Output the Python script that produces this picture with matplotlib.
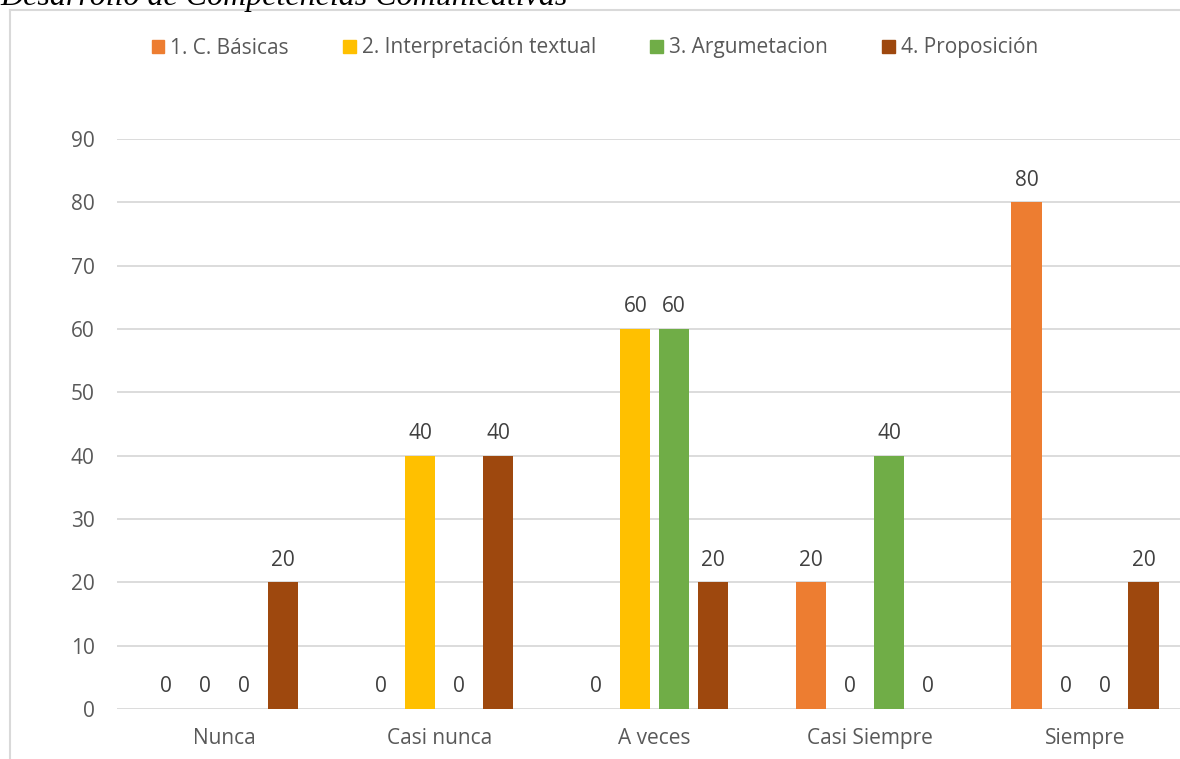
import matplotlib
matplotlib.use('Agg')
import matplotlib.pyplot as plt
from matplotlib.lines import Line2D
from matplotlib.patches import Patch
import numpy as np

plt.rcParams['font.family'] = ['Open Sans', 'DejaVu Sans']

categories = ['Nunca', 'Casi nunca', 'A veces', 'Casi Siempre', 'Siempre']
series_names = ['1. C. Básicas', '2. Interpretación textual', '3. Argumetacion', '4. Proposición']
basicas = [0, 0, 0, 20, 80]
interpretacion = [0, 40, 60, 0, 0]
argumentacion = [0, 0, 60, 40, 0]
proposicion = [20, 40, 20, 0, 20]
colors = ['#ED7D31', '#FFC000', '#70AD47', '#9E480E']
yticks = [0, 10, 20, 30, 40, 50, 60, 70, 80, 90]

W, H = 1180, 759
fig = plt.figure(figsize=(W / 100, H / 100), dpi=100)
# axes extends a little past the right edge of the picture, as in the reference
ax = fig.add_axes([117 / W, 50 / H, 1075.5 / W, 570 / H])

grid_c = '#D9D9D9'
text_c = '#595959'
fs = 15

x = np.arange(len(categories))
step = 0.1813
width = 0.14
all_series = [basicas, interpretacion, argumentacion, proposicion]
for i, (vals, col) in enumerate(zip(all_series, colors)):
    pos = x + (i - 1.5) * step
    bars = ax.bar(pos, vals, width, color=col, zorder=3)
    for b, v in zip(bars, vals):
        ax.annotate(str(v), (b.get_x() + b.get_width() / 2, v), xytext=(0, 8.5),
                    textcoords='offset points', ha='center', va='bottom',
                    fontsize=fs, color='#404040')

ax.set_xlim(-0.5, len(categories) - 0.5)
ax.set_ylim(0, 90)
ax.set_yticks(yticks)
ax.set_xticks(x)
ax.set_xticklabels(categories)
ax.yaxis.grid(True, color=grid_c, linewidth=1.3, zorder=0)
ax.tick_params(length=0, labelsize=fs, labelcolor=text_c)
ax.tick_params(axis='y', pad=16)
ax.tick_params(axis='x', pad=14)
for s in ax.spines.values():
    s.set_visible(False)

handles = [Patch(color=c) for c in colors]
fig.legend(handles, series_names, loc='center', bbox_to_anchor=(595 / W, 1 - 48 / H),
           ncol=4, frameon=False, fontsize=fs, labelcolor=text_c,
           handlelength=0.6, handleheight=0.6, handletextpad=0.3, columnspacing=2.6)

# chart frame (left and top edges)
fig.add_artist(Line2D([10 / W, 10 / W], [0, 1 - 10 / H], color=grid_c, lw=1.5))
fig.add_artist(Line2D([10 / W, 1], [1 - 10 / H, 1 - 10 / H], color=grid_c, lw=1.5))

# cut-off caption above the chart
fig.text(0, 1 - 5 / H, 'Desarrollo de Competencias Comunicativas', ha='left', va='baseline',
         family='Liberation Serif', style='italic', fontsize=23, color='black')

fig.savefig('out.png', dpi=100)
